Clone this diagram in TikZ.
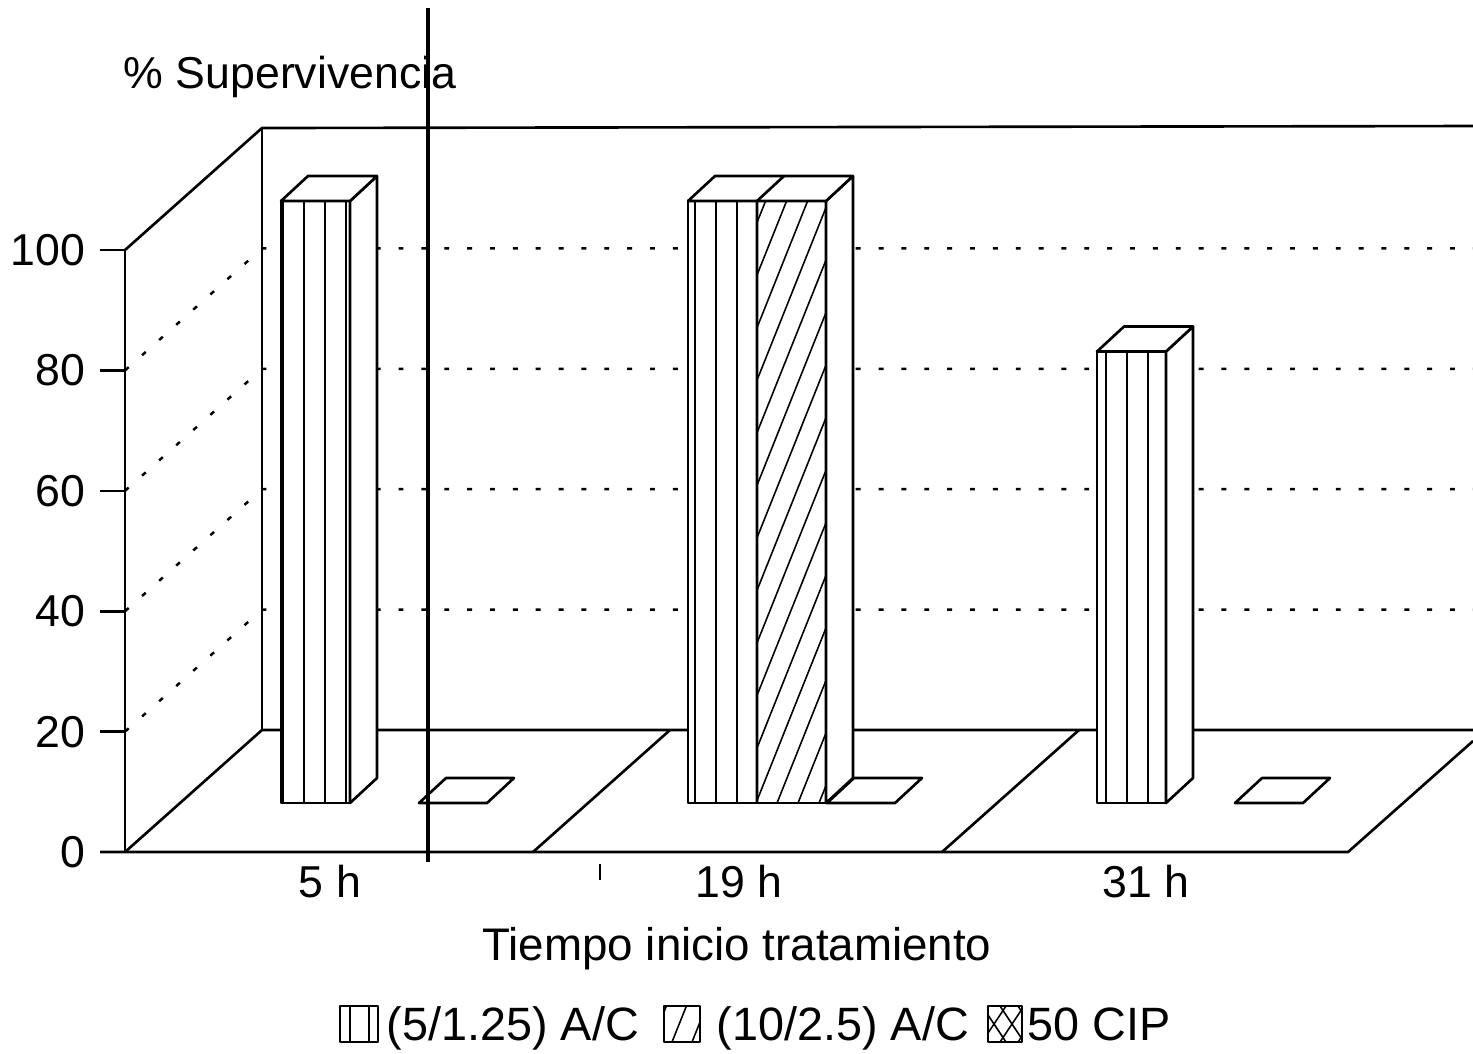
\documentclass[tikz,border=0pt]{standalone}
\usepackage{fontspec}
\setmainfont{Liberation Sans}
\begin{document}
\begin{tikzpicture}[x=0.01cm,y=-0.01cm,
    frame/.style={line width=0.75pt,line join=round},
    stripe/.style={line width=0.45pt},
    gridline/.style={line width=0.7pt,dash pattern=on 1.4pt off 5.1pt},
    txt/.style={font=\fontsize{12.7pt}{15pt}\selectfont,inner sep=0pt},
    legtxt/.style={font=\fontsize{13.3pt}{15pt}\selectfont,inner sep=0pt}]
    \useasboundingbox (0,0) rectangle (1473,1053);
    \pgfmathsetmacro{\axisx}{125}
    \pgfmathsetmacro{\zeroy}{852}
    \pgfmathsetmacro{\unity}{6.02}
    \pgfmathsetmacro{\wallx}{137}
    \pgfmathsetmacro{\wally}{122}
    \pgfmathsetmacro{\backx}{\axisx+\wallx}
    \pgfmathsetmacro{\barbase}{803}
    \pgfmathsetmacro{\barwidth}{69}
    \pgfmathsetmacro{\deepx}{27}
    \pgfmathsetmacro{\deepy}{25}
    % back wall and floor
    \draw[stripe] (\backx,\zeroy-\wally) -- (\backx,127);
    \draw[frame] (\axisx,250) -- (\backx,128) -- (1473,126);
    \draw[frame] (\axisx,\zeroy) -- (\backx,\zeroy-\wally) -- (1473,\zeroy-\wally);
    \draw[frame] (100,\zeroy) -- (1348,\zeroy) -- (1473,741);
    \foreach \fx in {533,942}
        \draw[frame] (\fx,\zeroy) -- (\fx+\wallx,\zeroy-\wally);
    % value axis
    \draw[frame] (\axisx,250) -- (\axisx,\zeroy);
    \foreach \v in {0,20,...,100} {
        \pgfmathsetmacro{\ty}{\zeroy-\v*\unity}
        \draw[frame] (100,\ty) -- (\axisx,\ty);
        \node[txt,anchor=east] (tick\v) at (86,\ty) {\v};
    }
    \foreach \v in {20,40,60,80} {
        \pgfmathsetmacro{\ty}{\zeroy-\v*\unity}
        \draw[gridline] (\axisx,\ty) -- (\backx,\ty-\wally) -- (1473,\ty-\wally);
    }
    % empty plates (50 CIP)
    \foreach \px in {419,827,1235}
        \draw[frame] (\px,\barbase) -- ++(68,0) -- ++(\deepx,-\deepy) -- ++(-68,0) -- cycle;
    % bars
    \foreach \bl/\br/\v in {281/350/100,688/826/100,1097/1166/75} {
        \pgfmathsetmacro{\bt}{\barbase-\v*\unity}
        \filldraw[frame,fill=white] (\bl,\barbase) rectangle (\br,\bt);
        \filldraw[frame,fill=white] (\br,\barbase) -- ++(\deepx,-\deepy) -- (\br+\deepx,\bt-\deepy) -- (\br,\bt) -- cycle;
        \filldraw[frame,fill=white] (\bl,\bt) -- ++(\deepx,-\deepy) -- (\br+\deepx,\bt-\deepy) -- (\br,\bt) -- cycle;
    }
    \foreach \bl/\ph/\v in {281/2/100,688/7/100,1097/9/75} {
        \pgfmathsetmacro{\bt}{\barbase-\v*\unity}
        \begin{scope}
            \clip (\bl,\barbase) rectangle (\bl+\barwidth,\bt);
            \foreach \k in {0,...,3}
                \draw[stripe] (\bl+\ph+21*\k,\barbase) -- (\bl+\ph+21*\k,\bt);
        \end{scope}
    }
    % hatched bar (10/2.5)
    \pgfmathsetmacro{\bt}{\barbase-100*\unity}
    \begin{scope}
        \clip (757,\barbase) rectangle (826,\bt);
        \foreach \k in {-12,...,2}
            \draw[stripe] (777+21*\k,\barbase) -- ++(241,-603);
    \end{scope}
    \draw[frame] (757,\barbase) -- (757,\bt) -- ++(\deepx,-\deepy);
    % stray marks
    \draw[line width=1pt] (428,8) -- (428,862);
    \draw[line width=0.8pt] (600,864) -- (600,880);
    % texts
    \node[txt,anchor=base west] (ytitle) at (123,88) {\% Supervivencia};
    \node[txt,anchor=base] (lab5) at (330,897) {5 h};
    \node[txt,anchor=base] (lab19) at (739,897) {19 h};
    \node[txt,anchor=base] (lab31) at (1146,897) {31 h};
    \node[txt,anchor=base,font=\fontsize{13pt}{15pt}\selectfont] (xtitle) at (737,960) {Tiempo inicio tratamiento};
    % legend
    \draw[frame] (340,1006) rectangle (378,1042);
    \draw[stripe] (350,1006) -- (350,1042) (369,1006) -- (369,1042);
    \node[legtxt,anchor=base west] (legA) at (386,1040) {(5/1.25) A/C};
    \draw[frame] (664,1006) rectangle (700,1042);
    \begin{scope}
        \clip (664,1006) rectangle (700,1042);
        \foreach \hx in {652,672,692}
            \draw[stripe] (\hx,1042) -- ++(14.4,-36);
    \end{scope}
    \node[legtxt,anchor=base west] (legB) at (716,1040) {(10/2.5) A/C};
    \draw[frame] (988,1006) rectangle (1022,1042);
    \begin{scope}
        \clip (988,1006) rectangle (1022,1042);
        \foreach \hx in {964,982,1000,1018}
            \draw[stripe] (\hx,1042) -- ++(24,-36) (\hx+24,1042) -- ++(-24,-36);
    \end{scope}
    \node[legtxt,anchor=base west] (legC) at (1027,1040) {50 CIP};
\end{tikzpicture}
\end{document}
